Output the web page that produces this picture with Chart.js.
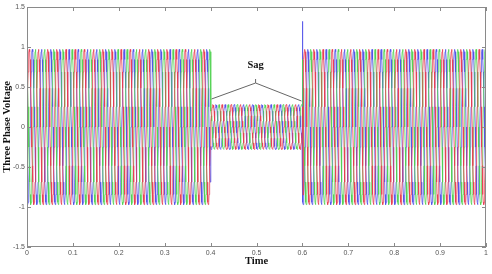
<!DOCTYPE html>
<html>
<head>
<meta charset="utf-8">
<script src="https://cdn.jsdelivr.net/npm/chart.js@4.4.1/dist/chart.umd.min.js"></script>
<style>
  html, body { margin: 0; padding: 0; background: #fff; }
  #wrap { width: 492px; height: 274px; }
</style>
</head>
<body>
<div id="wrap"><canvas id="chart"></canvas></div>
<script>
// one sampled period of a phase voltage (per unit of its peak)
const cycleShape = [0, 0.26, 0.5, 0.71, 0.87, 0.97, 1, 0.97, 0.87, 0.71, 0.5, 0.26,
                    0, -0.26, -0.5, -0.71, -0.87, -0.97, -1, -0.97, -0.87, -0.71, -0.5, -0.26];
const period = 0.02;
const endTime = 1.0;

// peak voltage per interval: normal, sag, normal
const segStart = [0, 0.4, 0.6];
const segPeak = [0.97, 0.28, 0.97];

// three phases, shifted by a third of a period (in samples)
const phaseNames = ['Va', 'Vb', 'Vc'];
const phaseShift = [0, 8, 16];
const phaseColors = ['rgba(232,60,80,0.8)', 'rgba(80,210,80,0.8)', 'rgba(80,80,232,0.8)'];

// switching transients: [phase, time, value]
const transients = [[2, 0.6005, 1.32], [0, 0.6015, -0.85]];

const xTicks = [0, 0.1, 0.2, 0.3, 0.4, 0.5, 0.6, 0.7, 0.8, 0.9, 1];
const xTickLabels = ['0', '0.1', '0.2', '0.3', '0.4', '0.5', '0.6', '0.7', '0.8', '0.9', '1'];
const yTicks = [-1.5, -1, -0.5, 0, 0.5, 1, 1.5];
const yTickLabels = ['-1.5', '-1', '-0.5', '0', '0.5', '1', '1.5'];

// "Sag" callout in data units
const sagLabel = { text: 'Sag', x: 0.498, y: 0.775 };
const sagApex = [[0.498, 0.6], [0.498, 0.55]];
const sagEnds = [[0.402, 0.35], [0.598, 0.325]];

const step = period / cycleShape.length;
const nSamples = Math.round(endTime / step);
const segIdx = segStart.map(s => Math.round(s / step));

function buildPhase(p) {
  const pts = [];
  for (let k = 0; k <= nSamples; k++) {
    let seg = 0;
    segIdx.forEach((s, i) => { if (k >= s) seg = i; });
    const v = segPeak[seg] * cycleShape[(k + phaseShift[p]) % cycleShape.length];
    pts.push({ x: k * step, y: v });
  }
  transients.filter(tr => tr[0] === p).forEach(tr => pts.push({ x: tr[1], y: tr[2] }));
  pts.sort((a, b) => a.x - b.x);
  return pts;
}

const datasets = phaseNames.map((name, p) => ({
  label: name,
  data: buildPhase(p),
  borderColor: phaseColors[p],
  borderWidth: 1,
  pointRadius: 0,
  tension: 0,
  fill: false
}));

const axesBox = {
  id: 'axesBox',
  afterDatasetsDraw(chart) {
    const { ctx, chartArea: a, scales: { x, y } } = chart;
    ctx.save();
    ctx.strokeStyle = '#8a8a8a';
    ctx.lineWidth = 1;
    ctx.strokeRect(a.left + 0.5, a.top + 0.5, a.right - a.left - 1, a.bottom - a.top - 1);
    ctx.beginPath();
    xTicks.forEach(v => {
      const px = Math.round(x.getPixelForValue(v)) + 0.5;
      ctx.moveTo(px, a.bottom); ctx.lineTo(px, a.bottom - 4);
      ctx.moveTo(px, a.top); ctx.lineTo(px, a.top + 4);
    });
    yTicks.forEach(v => {
      const py = Math.round(y.getPixelForValue(v)) + 0.5;
      ctx.moveTo(a.left, py); ctx.lineTo(a.left + 4, py);
      ctx.moveTo(a.right, py); ctx.lineTo(a.right - 4, py);
    });
    ctx.stroke();

    // sag callout
    ctx.strokeStyle = '#666';
    ctx.beginPath();
    const ax = x.getPixelForValue(sagApex[1][0]);
    const ay = y.getPixelForValue(sagApex[1][1]);
    ctx.moveTo(x.getPixelForValue(sagApex[0][0]), y.getPixelForValue(sagApex[0][1]));
    ctx.lineTo(ax, ay);
    sagEnds.forEach(e => {
      ctx.moveTo(ax, ay);
      ctx.lineTo(x.getPixelForValue(e[0]), y.getPixelForValue(e[1]));
    });
    ctx.stroke();
    ctx.fillStyle = '#111';
    ctx.font = 'bold 10.5px "Liberation Serif", "Times New Roman", serif';
    ctx.textAlign = 'center';
    ctx.textBaseline = 'middle';
    ctx.fillText(sagLabel.text, x.getPixelForValue(sagLabel.x), y.getPixelForValue(sagLabel.y));
    ctx.restore();
  }
};

const tickFont = { family: '"Liberation Sans", Arial, sans-serif', size: 7 };
const titleFont = { family: '"Liberation Serif", "Times New Roman", serif', size: 10.5, weight: 'bold' };

new Chart(document.getElementById('chart'), {
  type: 'line',
  data: { datasets: datasets },
  plugins: [axesBox],
  options: {
    responsive: true,
    maintainAspectRatio: false,
    animation: false,
    layout: { padding: { top: 7, right: 6, left: 0, bottom: 0 } },
    plugins: {
      legend: { display: false },
      tooltip: { enabled: false }
    },
    scales: {
      x: {
        type: 'linear',
        min: 0,
        max: 1,
        grid: { display: false, drawTicks: false },
        border: { display: false },
        afterBuildTicks: s => { s.ticks = xTicks.map(v => ({ value: v })); },
        afterFit: s => { s.height = 27; },
        ticks: {
          font: tickFont,
          color: '#555',
          padding: 2,
          maxRotation: 0,
          callback: v => xTickLabels[xTicks.indexOf(v)]
        },
        title: { display: true, text: 'Time', font: titleFont, color: '#111', padding: { top: 0, bottom: 6 } }
      },
      y: {
        min: -1.5,
        max: 1.5,
        grid: { display: false, drawTicks: false },
        border: { display: false },
        afterBuildTicks: s => { s.ticks = yTicks.map(v => ({ value: v })); },
        afterFit: s => { s.width = 27; },
        ticks: {
          font: tickFont,
          color: '#555',
          padding: 2,
          callback: v => yTickLabels[yTicks.indexOf(v)]
        },
        title: { display: true, text: 'Three Phase Voltage', font: titleFont, color: '#111', padding: { top: 1, bottom: 0 } }
      }
    }
  }
});
</script>
</body>
</html>
